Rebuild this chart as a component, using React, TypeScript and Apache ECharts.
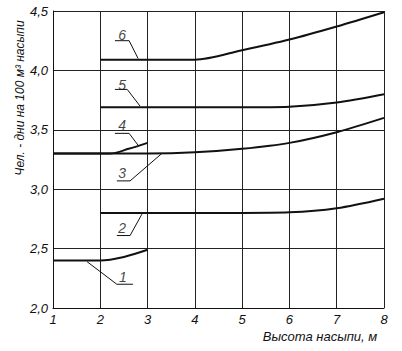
import React, { useEffect, useRef } from "react";
import * as echarts from "echarts";

const xTicks = { min: 1, max: 8, interval: 1 };
const yTicks = { min: 2, max: 4.5, interval: 0.5 };

const curve1 = [[1, 2.4], [2, 2.4], [2.5, 2.43], [3, 2.49]];
const curve2 = [[2, 2.8], [3, 2.8], [4, 2.8], [5, 2.8], [6, 2.805], [7, 2.84], [8, 2.92]];
const curve3 = [[1, 3.3], [2, 3.3], [3, 3.3], [4, 3.31], [5, 3.34], [6, 3.39], [7, 3.48], [8, 3.6]];
const curve4 = [[1, 3.3], [2.2, 3.3], [2.6, 3.34], [3, 3.39]];
const curve5 = [[2, 3.69], [3, 3.69], [4, 3.69], [5, 3.69], [6, 3.695], [7, 3.73], [8, 3.8]];
const curve6 = [[2, 4.09], [3, 4.09], [4, 4.09], [5, 4.17], [6, 4.26], [7, 4.37], [8, 4.49]];

const curveNames = ["1", "2", "3", "4", "5", "6"];
const labelPos = [[2.48, 2.26], [2.46, 2.67], [2.46, 3.14], [2.46, 3.54], [2.46, 3.88], [2.46, 4.3]];
const leaders = [
  [[1.72, 2.39], [2.35, 2.2], [2.69, 2.2]],
  [[2.88, 2.79], [2.63, 2.61], [2.35, 2.61]],
  [[3.3, 3.3], [2.63, 3.07], [2.35, 3.07]],
  [[2.8, 3.37], [2.61, 3.47], [2.31, 3.47]],
  [[2.84, 3.7], [2.57, 3.84], [2.31, 3.84]],
  [[2.8, 4.1], [2.61, 4.25], [2.31, 4.25]],
];

const yTitle = "Чел. - дни на 100 м³ насыпи";
const xTitle = "Высота насыпи, м";

const FONT = "Liberation Sans";
const INK = "#111";

export default function App() {
  const ref = useRef<HTMLDivElement>(null);
  useEffect(() => {
    if (!ref.current) return;
    const chart = echarts.init(ref.current, null, { renderer: "svg" });
    const curves = [curve1, curve2, curve3, curve4, curve5, curve6];
    const series: any[] = [];
    curves.forEach((c, i) => {
      series.push({
        type: "line",
        name: "curve" + curveNames[i],
        data: c,
        smooth: 0.3,
        symbol: "none",
        lineStyle: { color: INK, width: 2 },
        z: 5,
      });
    });
    leaders.forEach((l, i) => {
      series.push({
        type: "line",
        name: "leader" + curveNames[i],
        data: l,
        symbol: "none",
        lineStyle: { color: INK, width: 1 },
        z: 4,
      });
    });
    series.push({
      type: "scatter",
      name: "labels",
      data: labelPos.map((p, i) => ({ value: p, name: curveNames[i] })),
      symbolSize: 0,
      label: {
        show: true,
        position: "inside",
        formatter: (p: any) => p.name,
        fontFamily: FONT,
        fontStyle: "italic",
        fontSize: 14,
        color: INK,
      },
      z: 6,
    });

    chart.setOption({
      animation: false,
      backgroundColor: "#fff",
      grid: { left: 53, right: 18, top: 11, bottom: 43 },
      xAxis: {
        type: "value",
        min: xTicks.min,
        max: xTicks.max,
        interval: xTicks.interval,
        axisLine: { show: true, lineStyle: { color: INK, width: 1 } },
        axisTick: { show: false },
        splitLine: { show: true, lineStyle: { color: "#222", width: 1 } },
        axisLabel: {
          fontFamily: FONT,
          fontStyle: "italic",
          fontSize: 13,
          color: INK,
          margin: 5,
        },
      },
      yAxis: {
        type: "value",
        min: yTicks.min,
        max: yTicks.max,
        interval: yTicks.interval,
        axisLine: { show: true, lineStyle: { color: INK, width: 1 } },
        axisTick: { show: false },
        splitLine: { show: true, lineStyle: { color: "#222", width: 1 } },
        axisLabel: {
          fontFamily: FONT,
          fontStyle: "italic",
          fontSize: 13,
          color: INK,
          margin: 5,
          formatter: (v: number) => v.toFixed(1).replace(".", ","),
        },
      },
      graphic: [
        {
          type: "text",
          x: 20,
          y: 98,
          rotation: Math.PI / 2,
          style: {
            text: yTitle,
            fontFamily: FONT,
            fontStyle: "italic",
            fontSize: 12,
            fill: INK,
            align: "center",
            verticalAlign: "middle",
          },
        },
        {
          type: "text",
          x: 320,
          y: 336,
          style: {
            text: xTitle,
            fontFamily: FONT,
            fontStyle: "italic",
            fontSize: 13,
            fill: INK,
            align: "center",
            verticalAlign: "middle",
          },
        },
      ],
      series,
    });
    return () => chart.dispose();
  }, []);
  return (
    <div
      ref={ref}
      style={{ position: "fixed", left: 0, top: 0, width: 402, height: 351 }}
    />
  );
}
